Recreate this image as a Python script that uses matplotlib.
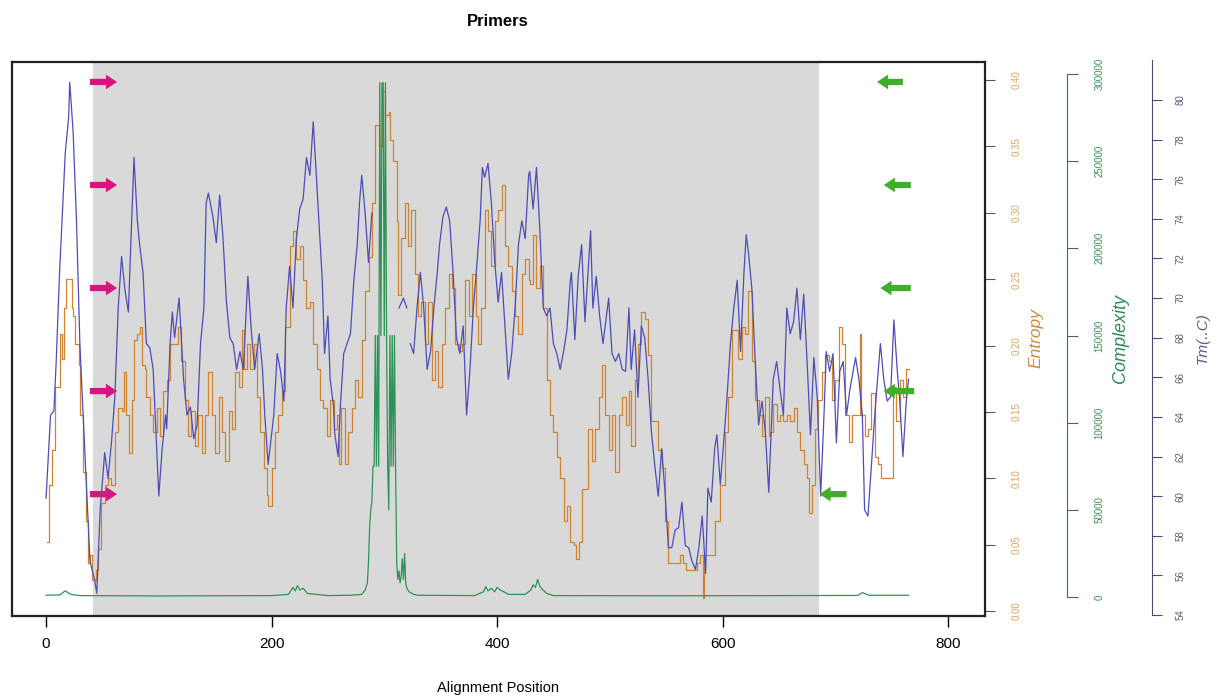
import matplotlib
matplotlib.use("Agg")
import matplotlib.pyplot as plt
import numpy as np

plt.rcParams['font.family'] = ['Liberation Sans', 'DejaVu Sans']

nan = float('nan')

# Entropy (step line)
ent_pos = [1, 3, 5, 8, 11, 12, 14, 16, 18, 21, 23, 24, 26, 29, 30, 33, 35, 37, 39, 41,
           44, 46, 49, 52, 55, 58, 61, 64, 67, 69, 71, 74, 76, 78, 81, 83, 85, 88, 89, 92,
           95, 98, 101, 104, 107, 110, 114, 117, 120, 123, 126, 129, 132, 135, 138, 141, 144, 147, 150, 153,
           156, 159, 162, 165, 168, 171, 174, 176, 178, 181, 184, 187, 190, 193, 196, 197, 200, 203, 206, 209,
           212, 216, 219, 222, 225, 228, 231, 234, 237, 240, 243, 246, 249, 252, 255, 258, 260, 262, 265, 268,
           271, 274, 277, 280, 283, 286, 289, 292, 295, 298, 301, 304, 305, 308, 311, 312, 315, 318, 321, 324,
           327, 330, 333, 336, 339, 342, 345, 348, 351, 354, 357, 360, 363, 366, 369, 372, 375, 378, 381, 383,
           386, 389, 392, 395, 398, 401, 404, 407, 410, 413, 416, 419, 422, 425, 428, 429, 432, 435, 438, 441,
           444, 447, 450, 453, 456, 459, 462, 465, 468, 470, 473, 475, 478, 481, 484, 487, 490, 493, 496, 499,
           502, 505, 508, 511, 514, 517, 519, 522, 525, 528, 531, 534, 537, 540, 543, 546, 549, 552, 562, 565,
           568, 577, 580, 583, 584, 593, 598, 602, 605, 608, 611, 614, 617, 620, 623, 626, 629, 632, 635, 638,
           641, 642, 645, 648, 651, 654, 657, 660, 663, 666, 669, 672, 675, 677, 679, 682, 685, 688, 691, 694,
           697, 700, 703, 706, 709, 712, 715, 722, 723, 726, 729, 732, 735, 738, 741, 751, 754, 757, 760, 763,
           765]
ent_val = [0.052, 0.095, 0.121, 0.169, 0.169, 0.209, 0.190, 0.228, 0.250, 0.250, 0.228, 0.222, 0.201, 0.185, 0.148, 0.105, 0.068, 0.036, 0.042, 0.023,
           0.031, 0.047, 0.081, 0.095, 0.100, 0.095, 0.135, 0.153, 0.151, 0.180, 0.148, 0.119, 0.159, 0.204, 0.209, 0.214, 0.185, 0.182, 0.161, 0.148,
           0.135, 0.153, 0.132, 0.166, 0.174, 0.201, 0.201, 0.214, 0.188, 0.159, 0.132, 0.151, 0.124, 0.148, 0.119, 0.148, 0.180, 0.148, 0.119, 0.161,
           0.135, 0.113, 0.151, 0.137, 0.180, 0.169, 0.212, 0.182, 0.201, 0.182, 0.201, 0.161, 0.135, 0.108, 0.087, 0.079, 0.108, 0.135, 0.148, 0.166,
           0.214, 0.275, 0.286, 0.265, 0.275, 0.249, 0.228, 0.233, 0.201, 0.182, 0.159, 0.153, 0.132, 0.159, 0.137, 0.148, 0.111, 0.153, 0.111, 0.135,
           0.153, 0.174, 0.161, 0.204, 0.241, 0.267, 0.307, 0.366, 0.350, 0.392, 0.374, 0.376, 0.355, 0.339, 0.294, 0.238, 0.281, 0.307, 0.275, 0.302,
           0.254, 0.222, 0.233, 0.201, 0.233, 0.174, 0.196, 0.169, 0.201, 0.228, 0.254, 0.243, 0.201, 0.196, 0.201, 0.249, 0.222, 0.254, 0.222, 0.201,
           0.228, 0.302, 0.286, 0.260, 0.294, 0.302, 0.321, 0.275, 0.260, 0.241, 0.222, 0.209, 0.254, 0.265, 0.249, 0.246, 0.283, 0.243, 0.260, 0.228,
           0.174, 0.148, 0.135, 0.116, 0.100, 0.068, 0.079, 0.052, 0.050, 0.039, 0.052, 0.092, 0.092, 0.137, 0.113, 0.137, 0.161, 0.185, 0.148, 0.121,
           0.148, 0.105, 0.148, 0.161, 0.140, 0.166, 0.124, 0.174, 0.201, 0.225, 0.220, 0.193, 0.143, 0.143, 0.121, 0.108, 0.068, 0.036, 0.042, 0.036,
           0.031, 0.036, 0.042, 0.010, 0.042, 0.068, 0.095, 0.135, 0.161, 0.212, 0.212, 0.190, 0.214, 0.209, 0.241, 0.188, 0.159, 0.148, 0.132, 0.161,
           0.132, 0.135, 0.156, 0.143, 0.148, 0.143, 0.148, 0.143, 0.153, 0.135, 0.121, 0.111, 0.100, 0.074, 0.095, 0.137, 0.159, 0.180, 0.193, 0.188,
           0.159, 0.174, 0.214, 0.201, 0.148, 0.127, 0.148, 0.209, 0.148, 0.132, 0.137, 0.164, 0.116, 0.111, 0.100, 0.169, 0.143, 0.174, 0.161, 0.182,
           0.182]

# Melting temperature
tm_pos = [0, 4, 7, 9, 12, 17, 20, 21, 24, 27, 30, 35, 39, 43, 45, 48, 52, 55, 58, 61,
          64, 67, 70, 73, 76, 78, 81, 83, 86, 89, 92, 95, 100, 103, 106, 107, 110, 112, 114, 118,
          122, 125, 128, 131, 134, 137, 140, 142, 144, 148, 151, 154, 157, 160, 163, 166, 169, 172, 175, 179,
          182, 185, 189, 192, 194, 197, 202, 205, 208, 211, 213, 216, 219, 222, 225, 228, 231, 234, 237, 242,
          245, 247, 250, 252, 255, 256, 259, 261, 264, 267, 270, 273, 276, 278, 280, 283, 286, 289, 290, 313,
          317, 320, 321, 323, 326, 329, 332, 335, 338, 341, 344, 347, 349, 352, 355, 358, 361, 364, 367, 370,
          373, 376, 379, 382, 385, 387, 389, 392, 395, 398, 401, 404, 407, 410, 413, 416, 419, 422, 425, 428,
          429, 432, 435, 438, 441, 444, 447, 450, 453, 456, 459, 462, 465, 466, 469, 472, 475, 478, 483, 485,
          488, 491, 494, 499, 502, 505, 508, 511, 514, 517, 519, 522, 525, 528, 531, 534, 537, 540, 543, 546,
          549, 552, 555, 558, 561, 564, 567, 570, 573, 576, 579, 582, 585, 587, 590, 593, 595, 598, 601, 604,
          607, 610, 613, 616, 619, 621, 623, 626, 629, 632, 635, 638, 641, 645, 648, 651, 654, 657, 660, 663,
          666, 669, 672, 675, 678, 681, 684, 687, 690, 692, 695, 698, 701, 704, 707, 710, 713, 718, 721, 724,
          726, 729, 732, 735, 740, 743, 746, 749, 752, 755, 757, 760, 763, 765]
tm_val = [59.9, 64.1, 64.3, 66.8, 71.3, 77.3, 79.1, 80.9, 78.4, 73.9, 67.7, 61.5, 56.7, 55.8, 55.1, 59.3, 62.2, 60.9, 62.7, 65.0,
          69.5, 72.1, 70.4, 69.3, 73.9, 77.1, 73.9, 72.7, 71.3, 67.7, 67.5, 66.4, 60.0, 62.4, 64.1, 63.4, 67.7, 69.3, 68.0, 70.0,
          65.9, 64.1, 64.5, 62.9, 63.6, 67.7, 69.5, 74.8, 75.3, 74.1, 72.8, 75.2, 73.0, 69.8, 68.0, 67.7, 66.4, 67.3, 66.4, 71.1,
          68.4, 66.4, 68.2, 66.4, 64.1, 61.6, 64.1, 67.2, 66.3, 64.8, 69.5, 71.6, 69.5, 73.0, 74.5, 75.0, 77.1, 76.2, 78.9, 73.9,
          70.9, 67.2, 69.1, 65.9, 64.5, 63.2, 62.0, 64.5, 67.2, 67.7, 68.2, 70.9, 72.7, 74.8, 76.2, 74.3, 71.8, 74.3, nan, 69.5,
          70.0, 69.5, nan, 67.7, 67.2, 69.5, 71.3, 69.5, 66.4, 67.3, 69.5, 71.3, 72.7, 74.1, 74.6, 73.9, 71.3, 68.0, 67.2, 68.6,
          64.1, 66.4, 69.5, 71.6, 73.9, 76.6, 76.1, 76.8, 74.8, 71.8, 69.8, 71.3, 68.6, 65.9, 67.2, 69.5, 72.7, 73.9, 73.0, 76.2,
          76.4, 74.5, 76.6, 73.4, 69.5, 69.1, 69.5, 67.7, 67.2, 66.4, 67.3, 68.4, 70.9, 71.3, 67.9, 71.1, 72.7, 68.8, 73.4, 69.5,
          71.1, 69.1, 67.7, 70.0, 67.2, 66.8, 67.2, 66.4, 66.3, 69.5, 66.4, 68.4, 65.0, 68.6, 68.0, 65.9, 63.2, 61.5, 60.0, 62.4,
          60.2, 57.4, 57.4, 58.3, 58.4, 59.7, 57.5, 57.4, 56.7, 56.3, 57.4, 59.0, 56.1, 60.4, 59.7, 62.4, 63.1, 60.6, 62.7, 65.0,
          67.7, 69.5, 70.9, 67.3, 71.3, 73.2, 72.3, 70.5, 66.8, 63.6, 64.8, 63.2, 60.2, 65.9, 66.8, 65.4, 64.1, 69.5, 68.2, 68.8,
          70.5, 67.9, 70.2, 66.8, 63.1, 67.0, 65.0, 60.0, 64.1, 67.3, 66.3, 67.2, 62.7, 66.3, 66.8, 64.1, 65.4, 67.0, 65.9, 64.1,
          59.3, 59.0, 61.5, 64.1, 67.7, 65.9, 64.8, 65.0, 68.9, 66.3, 65.0, 62.0, 64.8, 65.9]

# Sequence complexity
cx_pos = [0, 12, 17, 22, 30, 100, 200, 215, 219, 221, 223, 225, 228, 232, 250, 270, 280, 283, 285, 286,
          287, 288, 289, 290, 291, 292, 293, 294, 295, 296, 297, 298, 299, 300, 301, 302, 303, 304, 305, 306,
          307, 308, 309, 310, 311, 312, 313, 314, 315, 316, 317, 318, 319, 320, 322, 326, 330, 380, 388, 390,
          392, 395, 398, 400, 403, 406, 410, 425, 430, 432, 434, 436, 438, 440, 444, 450, 550, 650, 720, 724,
          730, 765]
cx_val = [1000, 1200, 3500, 1500, 800, 600, 800, 1500, 5500, 3500, 6500, 4000, 5000, 2000, 800, 1000, 1500, 4000, 8000, 20000,
          40000, 50000, 55000, 75000, 75000, 150000, 75000, 150000, 75000, 295000, 150000, 295000, 295000, 150000, 295000, 150000, 75000, 50000, 150000, 75000,
          150000, 75000, 150000, 75000, 20000, 10000, 15000, 8000, 12000, 22000, 10000, 25000, 8000, 5000, 3000, 1500, 1000, 800, 3000, 6000,
          3500, 5000, 3000, 5500, 4000, 3000, 1500, 1500, 4000, 7000, 5500, 10000, 6000, 4500, 2000, 800, 700, 800, 900, 2500,
          1000, 1000]

# Primer region and primer arrows
region = (42, 686)
arrow_levels = [0.964, 0.778, 0.592, 0.406, 0.220]
fwd_tail = [39, 39, 39, 39, 39]
fwd_tip = [63, 63, 63, 63, 63]
rev_tail = [760, 767, 767, 770, 710]
rev_tip = [737, 743, 740, 743, 686]

ent_ticks = [0.0, 0.05, 0.10, 0.15, 0.20, 0.25, 0.30, 0.35, 0.40]
cx_ticks = [0, 50000, 100000, 150000, 200000, 250000, 300000]
tm_ticks = list(range(54, 81, 2))
x_ticks = [0, 200, 400, 600, 800]

W, H = 1219, 700
fig = plt.figure(figsize=(W / 100, H / 100), dpi=100)
ax = fig.add_axes([12 / W, 84 / H, 973 / W, 554 / H])
ax_tm = ax.twinx()
ax_cx = ax.twinx()

ax.set_xlim(-30.2, 832.8)
ax.set_ylim(-0.0038, 0.4136)
ax.axvspan(region[0], region[1], color='#d9d9d9', lw=0, zorder=0)
ax.plot(ent_pos, ent_val, drawstyle='steps-post', color='#d08430', lw=0.9)

for side in ax.spines.values():
    side.set_linewidth(1.6)
    side.set_color('#222222')
ax.set_xticks(x_ticks)
ax.tick_params(axis='x', length=8, width=1, pad=7, labelsize=11)

# entropy axis sits on the right edge of the box (twinx moved it left)
ax.yaxis.tick_right()
ax.set_yticks(ent_ticks)
ax.set_yticklabels(['%.2f' % t for t in ent_ticks])
ax.tick_params(axis='y', which='both', left=False, labelleft=False, right=True, labelright=True,
               length=7, width=0.8, pad=12, labelsize=7,
               labelcolor='#d6a566', color='#555555', labelrotation=90)
for lab in ax.get_yticklabels():
    lab.set_va('center')

# Tm axis
ax_tm.set_ylim(53.95, 81.92)
ax_tm.plot(tm_pos, tm_val, color='#4d4db5', lw=0.9)
for s in ['top', 'bottom', 'left']:
    ax_tm.spines[s].set_visible(False)
ax_tm.spines['right'].set_position(('axes', (1152 - 12) / 973))
ax_tm.spines['right'].set_bounds(54, 82)
ax_tm.spines['right'].set_color('#4a4a7a')
ax_tm.set_yticks(tm_ticks)
ax_tm.tick_params(axis='y', length=7, width=0.8, pad=10, labelsize=7,
                  labelcolor='#5a5a78', color='#4a4a7a', labelrotation=90)
for lab in ax_tm.get_yticklabels():
    lab.set_va('center')

# complexity axis
ax_cx.set_ylim(-10900, 306900)
ax_cx.plot(cx_pos, cx_val, color='#2e9356', lw=0.9)
for s in ['top', 'bottom', 'left']:
    ax_cx.spines[s].set_visible(False)
ax_cx.spines['right'].set_position(('axes', (1067 - 12) / 973))
ax_cx.spines['right'].set_bounds(0, 300000)
ax_cx.spines['right'].set_color('#3e6b55')
ax_cx.set_yticks(cx_ticks)
ax_cx.set_yticklabels([str(t) for t in cx_ticks])
ax_cx.tick_params(axis='y', length=8, width=0.8, pad=12, labelsize=7,
                  labelcolor='#3b8f5c', color='#3e6b55', labelrotation=90)
for lab in ax_cx.get_yticklabels():
    lab.set_va('center')

# primer arrows
for lvl, a, b in zip(arrow_levels, fwd_tail, fwd_tip):
    ax_cx.annotate('', xy=(b, lvl), xytext=(a, lvl), xycoords=('data', 'axes fraction'),
                   arrowprops=dict(arrowstyle='simple,head_length=0.8,head_width=1.05,tail_width=0.45',
                                   color='#d4167e', lw=0, shrinkA=0, shrinkB=0),
                   annotation_clip=False, zorder=10)
for lvl, a, b in zip(arrow_levels, rev_tail, rev_tip):
    ax_cx.annotate('', xy=(b, lvl), xytext=(a, lvl), xycoords=('data', 'axes fraction'),
                   arrowprops=dict(arrowstyle='simple,head_length=0.8,head_width=1.05,tail_width=0.45',
                                   color='#3fae2a', lw=0, shrinkA=0, shrinkB=0),
                   annotation_clip=False, zorder=10)

fig.text(498 / W, 1 - 22 / H, 'Primers', weight='bold', size=12, ha='center', va='center')
fig.text(498 / W, 1 - 688 / H, 'Alignment Position', size=10.5, ha='center', va='center')
fig.text(1036 / W, 1 - 338 / H, 'Entropy', rotation=90, style='italic', size=12.5,
         color='#cc8a40', ha='center', va='center')
fig.text(1120 / W, 1 - 339 / H, 'Complexity', rotation=90, style='italic', size=13,
         color='#2f8a55', ha='center', va='center')
fig.text(1203 / W, 1 - 338 / H, 'Tm(..C)', rotation=90, style='italic', size=11,
         color='#5a5a8a', ha='center', va='center')

fig.savefig('out.png', dpi=100)
